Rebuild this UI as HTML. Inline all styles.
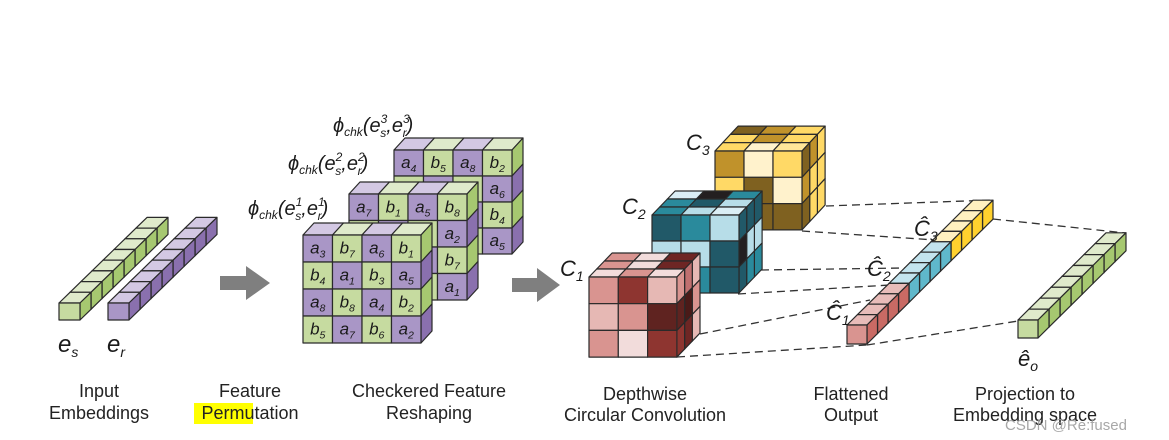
<!DOCTYPE html>
<html><head><meta charset="utf-8"><style>
html,body{margin:0;padding:0;background:#fff;width:1169px;height:440px;overflow:hidden}
svg{display:block}
text{font-family:"Liberation Sans",sans-serif}
.cap{font-size:18px;fill:#222;text-anchor:middle}
.it{font-style:italic;fill:#1a1a1a}
</style></head><body>
<svg id="s" width="1169" height="440" viewBox="0 0 1169 440" xmlns="http://www.w3.org/2000/svg">
<g id="g"></g>
<g stroke="#333" stroke-width="1.3" stroke-dasharray="8,5" fill="none">
<line x1="826" y1="206" x2="993" y2="200"/>
<line x1="802" y1="231" x2="935" y2="240"/>
<line x1="761" y1="270" x2="905" y2="268"/>
<line x1="738" y1="294" x2="890" y2="285"/>
<line x1="700" y1="334" x2="870" y2="300"/>
<line x1="677" y1="357" x2="867" y2="345"/>
<line x1="993" y1="219" x2="1126" y2="233"/>
<line x1="867" y1="345" x2="1018" y2="321"/>
</g>
<g id="g2"></g>
<!-- arrows -->
<polygon points="220,276 246,276 246,266 270,283 246,300 246,290 220,290" fill="#7f7f7f"/>
<polygon points="512,278 537,278 537,268 560,285 537,302 537,292 512,292" fill="#7f7f7f"/>
<!-- labels -->
<text class="it" x="58" y="352" font-size="24">e<tspan font-size="14" dy="5">s</tspan></text>
<text class="it" x="107" y="352" font-size="24">e<tspan font-size="14" dy="5">r</tspan></text>
<text class="it" x="333" y="132" font-size="20">ϕ<tspan font-size="12" dy="4">chk</tspan><tspan dy="-4">(e</tspan><tspan font-size="12" dy="-9">3</tspan><tspan font-size="12" dx="-7" dy="14">s</tspan><tspan dy="-5">,e</tspan><tspan font-size="12" dy="-9">3</tspan><tspan font-size="12" dx="-7" dy="14">r</tspan><tspan dy="-5">)</tspan></text>
<text class="it" x="288" y="170" font-size="20">ϕ<tspan font-size="12" dy="4">chk</tspan><tspan dy="-4">(e</tspan><tspan font-size="12" dy="-9">2</tspan><tspan font-size="12" dx="-7" dy="14">s</tspan><tspan dy="-5">,e</tspan><tspan font-size="12" dy="-9">2</tspan><tspan font-size="12" dx="-7" dy="14">r</tspan><tspan dy="-5">)</tspan></text>
<text class="it" x="248" y="215" font-size="20">ϕ<tspan font-size="12" dy="4">chk</tspan><tspan dy="-4">(e</tspan><tspan font-size="12" dy="-9">1</tspan><tspan font-size="12" dx="-7" dy="14">s</tspan><tspan dy="-5">,e</tspan><tspan font-size="12" dy="-9">1</tspan><tspan font-size="12" dx="-7" dy="14">r</tspan><tspan dy="-5">)</tspan></text>
<text class="it" x="560" y="276" font-size="22">C<tspan font-size="14" dy="5">1</tspan></text>
<text class="it" x="622" y="214" font-size="22">C<tspan font-size="14" dy="5">2</tspan></text>
<text class="it" x="686" y="150" font-size="22">C<tspan font-size="14" dy="5">3</tspan></text>
<text class="it" x="914" y="236" font-size="22">Ĉ<tspan font-size="14" dy="5">3</tspan></text>
<text class="it" x="867" y="276" font-size="22">Ĉ<tspan font-size="14" dy="5">2</tspan></text>
<text class="it" x="826" y="320" font-size="22">Ĉ<tspan font-size="14" dy="5">1</tspan></text>
<text class="it" x="1018" y="366" font-size="22">ê<tspan font-size="14" dy="5">o</tspan></text>
<!-- captions -->
<rect x="194" y="403" width="59" height="21" fill="#ffff00"/>
<text class="cap" x="99" y="397">Input</text>
<text class="cap" x="99" y="419">Embeddings</text>
<text class="cap" x="250" y="397">Feature</text>
<text class="cap" x="250" y="419">Permutation</text>
<text class="cap" x="429" y="397">Checkered Feature</text>
<text class="cap" x="429" y="419">Reshaping</text>
<text class="cap" x="645" y="400">Depthwise</text>
<text class="cap" x="645" y="421">Circular Convolution</text>
<text class="cap" x="851" y="400">Flattened</text>
<text class="cap" x="851" y="421">Output</text>
<text class="cap" x="1025" y="400">Projection to</text>
<text class="cap" x="1025" y="421">Embedding space</text>
<text x="1005" y="430" font-size="15" fill="#999" opacity="0.85">CSDN @Re:fused</text>
</svg>
<script>
var NS="http://www.w3.org/2000/svg";
var G=document.getElementById('g'),G2=document.getElementById('g2');
function poly(par,pts,fill){var p=document.createElementNS(NS,'polygon');p.setAttribute('points',pts.map(function(a){return a[0].toFixed(1)+','+a[1].toFixed(1)}).join(' '));p.setAttribute('fill',fill);p.setAttribute('stroke','#2a2a2a');p.setAttribute('stroke-width','1.2');p.setAttribute('stroke-linejoin','round');par.appendChild(p);}
function txt(par,x,y,s,fs){var t=document.createElementNS(NS,'text');t.setAttribute('x',x);t.setAttribute('y',y);t.setAttribute('font-size',fs);t.setAttribute('font-style','italic');t.setAttribute('text-anchor','middle');t.setAttribute('fill','#1a1a1a');t.appendChild(document.createTextNode(s[0]));var sb=document.createElementNS(NS,'tspan');sb.setAttribute('font-size',fs*0.62);sb.setAttribute('dy',4);sb.appendChild(document.createTextNode(s.slice(1)));t.appendChild(sb);par.appendChild(t);}
function cube(par,x,y,w,h,dx,dy,f,t,s){
 poly(par,[[x,y],[x+w,y],[x+w+dx,y+dy],[x+dx,y+dy]],t);
 poly(par,[[x+w,y],[x+w+dx,y+dy],[x+w+dx,y+h+dy],[x+w,y+h]],s);
 poly(par,[[x,y],[x+w,y],[x+w,y+h],[x,y+h]],f);}
function bar(par,x,y,w,h,dx,dy,n,cols){for(var i=n-1;i>=0;i--){var c=cols(i);cube(par,x+i*dx,y+i*dy,w,h,dx,dy,c[0],c[1],c[2]);}}
var GR=['#c6dba0','#dfeacb','#a6c870'],PU=['#a996c6','#d3c8e3','#8a70ae'];
bar(G,59,303,21,17,11,-10.7,8,function(){return GR});
bar(G,108,303,21,17,11,-10.7,8,function(){return PU});
// checkered blocks
function block(par,x,y,cw,ch,dx,dy,lab,vis){
 for(var r=0;r<4;r++)for(var c=0;c<4;c++){var col=((r+c)%2==0)?PU:GR;
  if(r==0)poly(par,[[x+c*cw,y],[x+(c+1)*cw,y],[x+(c+1)*cw+dx,y+dy],[x+c*cw+dx,y+dy]],col[1]);
  if(c==3)poly(par,[[x+4*cw,y+r*ch],[x+4*cw+dx,y+r*ch+dy],[x+4*cw+dx,y+(r+1)*ch+dy],[x+4*cw,y+(r+1)*ch]],col[2]);
  poly(par,[[x+c*cw,y+r*ch],[x+(c+1)*cw,y+r*ch],[x+(c+1)*cw,y+(r+1)*ch],[x+c*cw,y+(r+1)*ch]],col[0]);
  var L=lab[r][c];if(L)txt(par,x+c*cw+cw/2,y+r*ch+ch/2+5,L,17);}}
var cw=29.5,ch=27;
block(G,394,150,cw,26,11,-12,[['a4','b5','a8','b2'],['','','','a6'],['','','','b4'],['','','','a5']]);
block(G,349,194,cw,26.5,11,-12,[['a7','b1','a5','b8'],['','','','a2'],['','','','b7'],['','','','a1']]);
block(G,303,235,cw,ch,11,-12,[['a3','b7','a6','b1'],['b4','a1','b3','a5'],['a8','b8','a4','b2'],['b5','a7','b6','a2']]);
// conv cubes
function c3(par,x,y,cw,ch,ddx,ddy,F,T,S){
 for(var k=2;k>=0;k--)for(var c=0;c<3;c++){var bx=x+c*cw+k*ddx,by=y+k*ddy;poly(par,[[bx,by],[bx+cw,by],[bx+cw+ddx,by+ddy],[bx+ddx,by+ddy]],T[k][c]);}
 for(var k=2;k>=0;k--)for(var r=0;r<3;r++){var bx=x+3*cw+k*ddx,by=y+r*ch+k*ddy;poly(par,[[bx,by],[bx+ddx,by+ddy],[bx+ddx,by+ch+ddy],[bx,by+ch]],S[r][k]);}
 for(var r=0;r<3;r++)for(var c=0;c<3;c++)poly(par,[[x+c*cw,y+r*ch],[x+(c+1)*cw,y+r*ch],[x+(c+1)*cw,y+(r+1)*ch],[x+c*cw,y+(r+1)*ch]],F[r][c]);}
var Y1='#7f6120',Y2='#c0922b',Y3='#ffd966',Y4='#fff2cc',Y5='#ffe699';
c3(G2,715,151,29,26.3,7.7,-8.3,[[Y2,Y4,Y3],[Y3,Y1,Y4],[Y3,Y1,Y1]],[[Y3,Y4,Y5],[Y3,Y2,Y3],[Y1,Y2,Y3]],[[Y1,Y2,Y3],[Y2,Y3,Y3],[Y1,Y3,Y3]]);
var B1='#215968',B2='#2a8a9c',B3='#b7dde8',B4='#dbeef5',BK='#231f20';
c3(G2,652,215,29,26,7.7,-8,[[B1,B2,B3],[B3,B3,B1],[B1,B2,B1]],[[B2,B3,B4],[B2,B1,B3],[B4,BK,B2]],[[B1,B1,B1],[BK,B3,B3],[B1,B2,B2]]);
var R1='#d99490',R2='#8e3530',R3='#e6b8b4',R4='#f2dcdb',R5='#5f2320';
c3(G2,589,277,29.3,26.7,7.7,-8,[[R1,R2,R3],[R3,R1,R5],[R1,R4,R2]],[[R4,R1,R4],[R1,R4,'#6e2624'],[R1,R4,'#6e2624']],[[R1,'#c07070',R3],[R5,'#4a1a18',R1],[R2,'#6e2624',R3]]);
// flattened
bar(G2,847,325,20,19,10.5,-10.4,12,function(i){return i<4?['#d99490','#e8bcb9','#c96a64']:i<8?['#a9d8e4','#c3e4ee','#5fb8cb']:['#ffe699','#fff0c0','#ffd12e']});
bar(G2,1018,320,20,18,11,-10.9,8,function(){return GR});
</script>
</body></html>
